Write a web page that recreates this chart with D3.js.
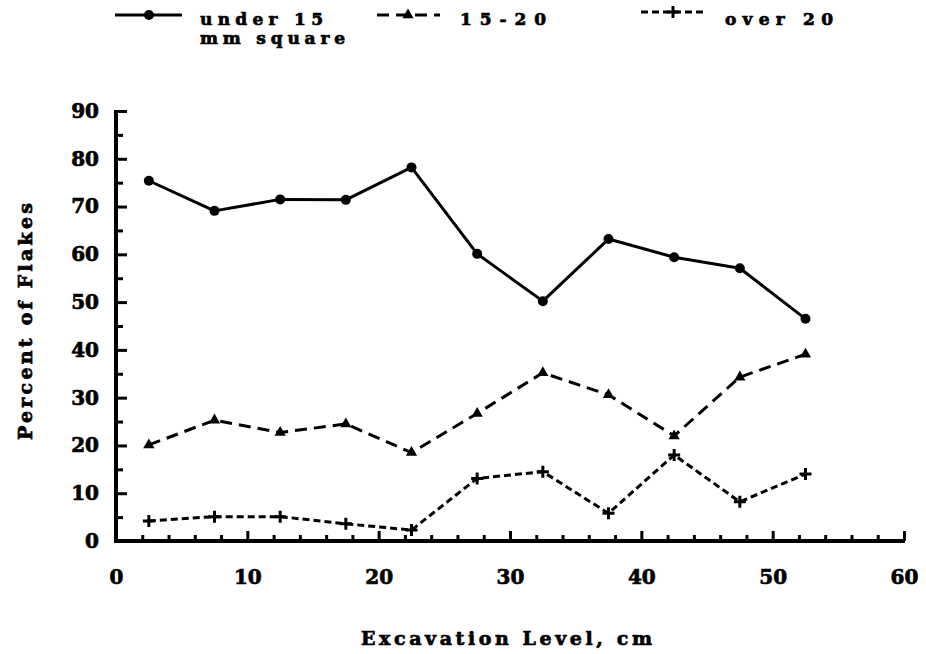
<!DOCTYPE html>
<html>
<head>
<meta charset="utf-8">
<script src="https://cdn.jsdelivr.net/npm/d3@7"></script>
<style>
  html, body { margin: 0; padding: 0; background: #fff; }
  svg { display: block; }
  text { font-family: "DejaVu Serif", serif; font-weight: bold; fill: #000; stroke: #000; stroke-width: 0.7px; }
</style>
</head>
<body>
<svg id="chart" width="926" height="654"></svg>
<script>
// ---- data ----
const xLevels   = [2.5, 7.5, 12.5, 17.5, 22.5, 27.5, 32.5, 37.5, 42.5, 47.5, 52.5];
const under15   = [75.4, 69.1, 71.5, 71.4, 78.2, 60.1, 50.2, 63.2, 59.4, 57.1, 46.5];
const mid15to20 = [20.1, 25.3, 22.7, 24.5, 18.5, 26.7, 35.2, 30.6, 22.0, 34.3, 39.1];
const over20    = [4.2, 5.1, 5.1, 3.6, 2.3, 13.1, 14.5, 5.8, 18.0, 8.2, 14.0];
const xTickLabels = [0, 10, 20, 30, 40, 50, 60];
const yTickLabels = [0, 10, 20, 30, 40, 50, 60, 70, 80, 90];
const seriesNames = ["under 15", "15-20", "over 20"];
const legendSub = "mm square";
const xTitle = "Excavation Level, cm";
const yTitle = "Percent of Flakes";

// ---- layout ----
const svg = d3.select("#chart");
const x = d3.scaleLinear().domain([0, 60]).range([116, 904]);
const y = d3.scaleLinear().domain([0, 90]).range([541, 111]);

const series = [
  { name: seriesNames[0], values: under15,   dash: null,   marker: "circle" },
  { name: seriesNames[1], values: mid15to20, dash: "12,7", marker: "triangle" },
  { name: seriesNames[2], values: over20,    dash: "7,4",  marker: "plus" }
];

function drawMarker(g, type, cx, cy) {
  if (type === "circle") {
    g.append("circle").attr("cx", cx).attr("cy", cy).attr("r", 5).attr("fill", "#000");
  } else if (type === "triangle") {
    g.append("path").attr("d", d3.symbol().type(d3.symbolTriangle).size(55)())
      .attr("transform", `translate(${cx},${cy})`).attr("fill", "#000");
  } else {
    g.append("path").attr("d", "M-6,0H6M0,-6V6")
      .attr("transform", `translate(${cx},${cy})`)
      .attr("stroke", "#000").attr("stroke-width", 3).attr("fill", "none");
  }
}

// ---- axes ----
const yMinor = svg.append("g").attr("transform", `translate(${x(0)},0)`)
  .call(d3.axisLeft(y).tickValues(d3.range(5, 90, 10)).tickSize(-7).tickFormat(""));
const yAxis = svg.append("g").attr("transform", `translate(${x(0)},0)`)
  .call(d3.axisLeft(y).tickValues(yTickLabels).tickSize(-11).tickPadding(17).tickFormat(d3.format("d")));
const xMinor = svg.append("g").attr("transform", `translate(0,${y(0)})`)
  .call(d3.axisBottom(x).tickValues(d3.range(2, 60, 2).filter(v => v % 10 !== 0)).tickSize(-6).tickFormat(""));
const xAxis = svg.append("g").attr("transform", `translate(0,${y(0)})`)
  .call(d3.axisBottom(x).tickValues(xTickLabels).tickSize(-10).tickPadding(29).tickFormat(d3.format("d")));

[yMinor, yAxis, xMinor, xAxis].forEach(g => {
  g.selectAll(".domain").remove();
  g.selectAll(".tick line").attr("stroke", "#000").attr("stroke-width", 3);
  g.selectAll("text").attr("font-family", "DejaVu Serif").attr("font-weight", "bold")
    .attr("font-size", 20).attr("fill", "#000");
});
// axis lines
svg.append("line").attr("x1", x(0)).attr("x2", x(0)).attr("y1", y(90) - 1).attr("y2", y(0) + 2)
  .attr("stroke", "#000").attr("stroke-width", 4);
svg.append("line").attr("x1", x(0) - 2).attr("x2", x(60) + 1).attr("y1", y(0)).attr("y2", y(0))
  .attr("stroke", "#000").attr("stroke-width", 4);

// ---- series ----
const line = d3.line().x((d, i) => x(xLevels[i])).y(d => y(d));
series.forEach(s => {
  const p = svg.append("path").datum(s.values).attr("d", line)
    .attr("fill", "none").attr("stroke", "#000").attr("stroke-width", 3)
    .attr("stroke-linejoin", "round");
  if (s.dash) p.attr("stroke-dasharray", s.dash);
  const mg = svg.append("g");
  s.values.forEach((v, i) => drawMarker(mg, s.marker, x(xLevels[i]), y(v)));
});

// ---- legend ----
const legendItems = [
  { s: series[0], x1: 115, x2: 182, mx: 149, ly: 15, tx: 200, tw: 123 },
  { s: series[1], x1: 377, x2: 440, mx: 408, ly: 15, tx: 460, tw: 86 },
  { s: series[2], x1: 641, x2: 703, mx: 673, ly: 12, tx: 725, tw: 108 }
];
legendItems.forEach(it => {
  const g = svg.append("g");
  const l = g.append("line").attr("x1", it.x1).attr("x2", it.x2).attr("y1", it.ly).attr("y2", it.ly)
    .attr("stroke", "#000").attr("stroke-width", 3);
  if (it.s.dash) l.attr("stroke-dasharray", it.s.dash);
  drawMarker(g, it.s.marker, it.mx, it.ly);
  g.append("text").attr("x", it.tx).attr("y", 25).attr("font-size", 17)
    .attr("textLength", it.tw).attr("lengthAdjust", "spacing").text(it.s.name);
});
svg.append("text").attr("x", 200).attr("y", 44).attr("font-size", 17)
  .attr("textLength", 145).attr("lengthAdjust", "spacing").text(legendSub);

// ---- titles ----
svg.append("text").attr("x", 361).attr("y", 645).attr("font-size", 19)
  .attr("textLength", 291).attr("lengthAdjust", "spacing").text(xTitle);
svg.append("text").attr("transform", "translate(32,440) rotate(-90)").attr("font-size", 19)
  .attr("textLength", 237).attr("lengthAdjust", "spacing").text(yTitle);
</script>
</body>
</html>
